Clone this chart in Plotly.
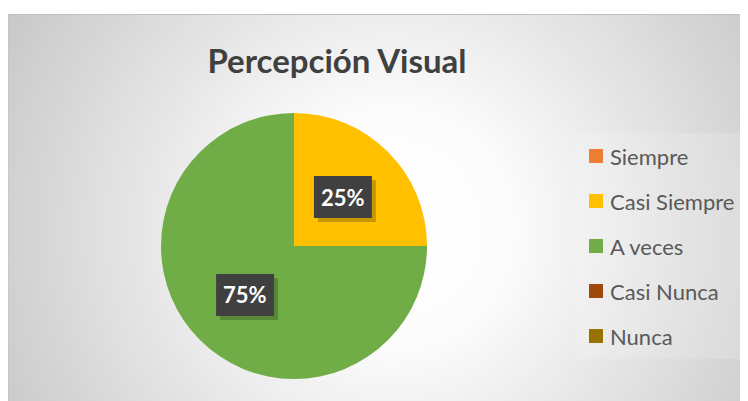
import math
import plotly.graph_objects as go

# page body has an 8px margin, so the figure is 8px smaller and all
# pixel positions are shifted by OFF
OFF = 8
W, H = 748 - OFF, 401 - OFF

title = "Percepción Visual"
labels = ["Siempre", "Casi Siempre", "A veces", "Casi Nunca", "Nunca"]
values = [0, 25, 75, 0, 0]
colors = ["#ED7D31", "#FFC000", "#70AD47", "#9E480E", "#997300"]

# pie geometry in reference pixels
cx, cy, r = 294, 246, 133


def px(x):
    return (x - OFF) / W


def py(y):
    return 1 - (y - OFF) / H


# radial gradient background as inline svg (chart box 8..745 x 14..401)
bx0, by0, bx1, by1 = 8, 14, 745, 401
bg_w, bg_h = bx1 - bx0, by1 - by0
svg = (
    f"<svg xmlns='http://www.w3.org/2000/svg' width='{bg_w}' height='{bg_h}'>"
    "<defs><radialGradient id='g' gradientUnits='userSpaceOnUse' cx='385' cy='215' r='465'>"
    "<stop offset='0' stop-color='#ffffff'/><stop offset='0.25' stop-color='#fcfcfc'/>"
    "<stop offset='1' stop-color='#c4c4c4'/></radialGradient></defs>"
    f"<rect x='0' y='0.5' width='{bg_w - 0.5}' height='{bg_h}' fill='url(#g)' stroke='#c0c0c0'/></svg>"
)
src = "data:image/svg+xml;charset=utf-8," + svg.replace("#", "%23").replace("<", "%3C").replace(">", "%3E")

fig = go.Figure(go.Pie(
    labels=labels, values=values, sort=False, direction="clockwise", rotation=0,
    marker=dict(colors=colors, line=dict(width=0)),
    textinfo="none", hoverinfo="label+percent", showlegend=False,
    domain=dict(x=[px(cx - r), px(cx + r)], y=[py(cy + r), py(cy - r)]),
))

annotations = []
shapes = [
    # legend area, slightly lighter than the background
    dict(type="rect", xref="paper", yref="paper", layer="below",
         x0=px(577), x1=px(744), y0=py(359), y1=py(133),
         fillcolor="rgba(255,255,255,0.15)", line=dict(width=0)),
]

# data labels: dark boxes at the middle of each non-empty slice
total = sum(values)
cum = 0
for v in values:
    if v > 0:
        ang = math.radians(90 - 360 * (cum + v / 2) / total)
        lx = cx + 0.52 * r * math.cos(ang)
        ly = cy - 0.52 * r * math.sin(ang)
        shapes.append(dict(
            type="rect", xref="paper", yref="paper",
            x0=px(lx - 29 + 4), x1=px(lx + 29 + 4), y0=py(ly + 21 + 4), y1=py(ly - 21 + 4),
            fillcolor="rgba(0,0,0,0.22)", line=dict(width=0),
        ))
        shapes.append(dict(
            type="rect", xref="paper", yref="paper",
            x0=px(lx - 29), x1=px(lx + 29), y0=py(ly + 21), y1=py(ly - 21),
            fillcolor="#404040", line=dict(width=0),
        ))
        annotations.append(dict(
            x=px(lx), y=py(ly), xref="paper", yref="paper",
            xanchor="center", yanchor="middle",
            text=f"<b>{round(100 * v / total)}%</b>", showarrow=False,
            font=dict(family="Lato", size=22, color="white"),
        ))
    cum += v

# legend, drawn by hand to get Excel-like spacing
for i, (lab, col) in enumerate(zip(labels, colors)):
    yc = 156 + 45 * i
    shapes.append(dict(
        type="rect", xref="paper", yref="paper",
        x0=px(589), x1=px(603), y0=py(yc + 7), y1=py(yc - 7),
        fillcolor=col, line=dict(width=0),
    ))
    annotations.append(dict(
        x=px(608), y=py(yc), xref="paper", yref="paper", text=lab, showarrow=False,
        xanchor="left", yanchor="middle",
        font=dict(family="Lato", size=22, color="#595959"),
    ))

fig.update_layout(
    width=W, height=H, margin=dict(l=0, r=0, t=0, b=0),
    paper_bgcolor="white", plot_bgcolor="white",
    title=dict(
        text=f"<b>{title}</b>", x=px(337), y=py(61), xanchor="center", yanchor="middle",
        font=dict(family="Lato", size=33, color="#404040"),
    ),
    images=[dict(
        source=src, xref="paper", yref="paper", x=px(bx0), y=py(by0),
        sizex=bg_w / W, sizey=bg_h / H, sizing="stretch", layer="below",
        xanchor="left", yanchor="top",
    )],
    annotations=annotations, shapes=shapes,
)

fig.write_html("out.html")
